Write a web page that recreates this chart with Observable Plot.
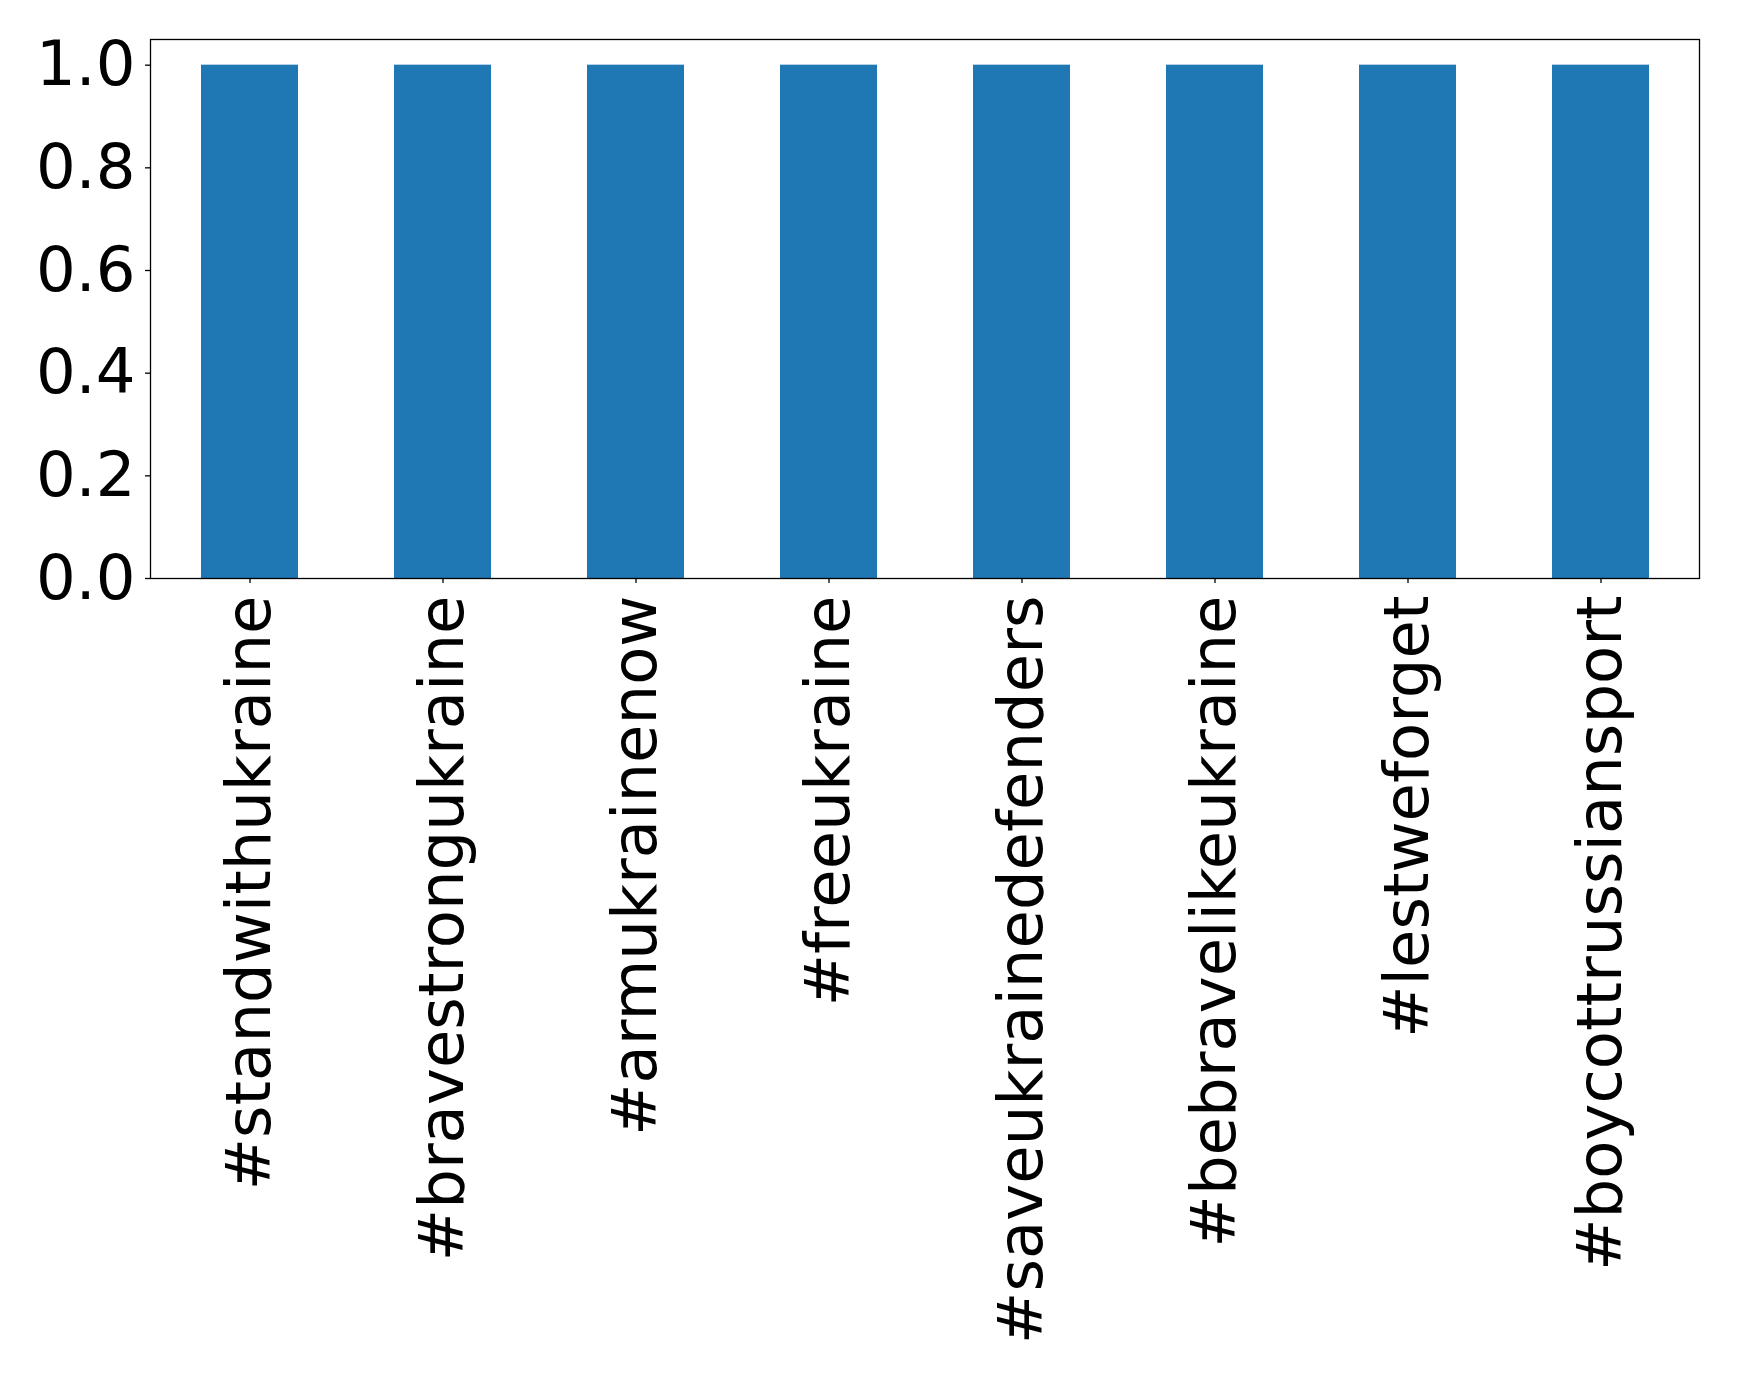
<!DOCTYPE html>
<html>
<head>
<meta charset="utf-8">
<script src="https://cdn.jsdelivr.net/npm/d3@7"></script>
<script src="https://cdn.jsdelivr.net/npm/@observablehq/plot@0.6"></script>
<style>
  html, body { margin: 0; padding: 0; background: #fff; }
  #chart svg { display: block; }
</style>
</head>
<body>
<div id="chart"></div>
<script>
const categories = [
  "#standwithukraine",
  "#bravestrongukraine",
  "#armukrainenow",
  "#freeukraine",
  "#saveukrainedefenders",
  "#bebravelikeukraine",
  "#lestweforget",
  "#boycottrussiansport"
];
const values = [1, 1, 1, 1, 1, 1, 1, 1];
const yTicks = [0, 0.2, 0.4, 0.6, 0.8, 1.0];

const data = categories.map((c, i) => ({category: c, value: values[i]}));

const chart = Plot.plot({
  width: 1739,
  height: 1376,
  marginLeft: 150,
  marginRight: 40,
  marginTop: 39,
  marginBottom: 798,
  style: {fontFamily: "DejaVu Sans", background: "#fff", color: "#000"},
  x: {domain: categories, paddingInner: 0.5, paddingOuter: 0.25, label: null},
  y: {domain: [0, 1.05], label: null},
  marks: [
    Plot.barY(data, {x: "category", y: "value", fill: "#1f77b4"}),
    Plot.frame({stroke: "#000", strokeWidth: 1.3}),
    Plot.axisY({ticks: yTicks, tickFormat: d3.format(".1f"), fontSize: 62.5, tickSize: 5, tickPadding: 10, stroke: "#000", strokeWidth: 1.3, label: null}),
    Plot.axisX({tickRotate: -90, fontSize: 62.5, tickSize: 5, tickPadding: 12, stroke: "#000", strokeWidth: 1.3, label: null})
  ]
});
document.getElementById("chart").appendChild(chart);
</script>
</body>
</html>
